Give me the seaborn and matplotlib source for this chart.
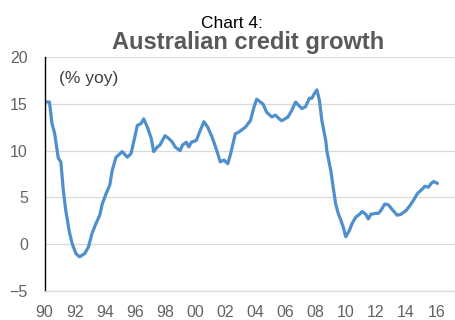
import matplotlib
matplotlib.use("Agg")
import matplotlib.pyplot as plt
import seaborn as sns
import pandas as pd

# Year-on-year growth in Australian credit, monthly observations
months = [
    "1990-01", "1990-05", "1990-07", "1990-09", "1990-12", "1991-02", "1991-04", "1991-06",
    "1991-09", "1991-11", "1992-02", "1992-05", "1992-09", "1992-12", "1993-03", "1993-06",
    "1993-09", "1993-11", "1994-02", "1994-05", "1994-07", "1994-10", "1995-03", "1995-07",
    "1995-10", "1996-01", "1996-03", "1996-06", "1996-08", "1996-11", "1997-02", "1997-04",
    "1997-07", "1997-09", "1998-01", "1998-04", "1998-07", "1998-09", "1999-01", "1999-03",
    "1999-06", "1999-08", "1999-10", "2000-02", "2000-04", "2000-08", "2000-11", "2001-02",
    "2001-04", "2001-07", "2001-09", "2001-12", "2002-03", "2002-05", "2002-09", "2002-12",
    "2003-05", "2003-09", "2003-12", "2004-02", "2004-05", "2004-07", "2004-10", "2005-02",
    "2005-05", "2005-08", "2005-10", "2006-03", "2006-06", "2006-09", "2006-11", "2007-02",
    "2007-05", "2007-08", "2007-10", "2007-12", "2008-02", "2008-04", "2008-06", "2008-09",
    "2008-10", "2009-01", "2009-03", "2009-05", "2009-07", "2009-09", "2009-11", "2010-01",
    "2010-04", "2010-06", "2010-09", "2010-12", "2011-02", "2011-05", "2011-07", "2011-09",
    "2012-01", "2012-03", "2012-05", "2012-08", "2012-11", "2013-02", "2013-06", "2013-09",
    "2014-01", "2014-04", "2014-07", "2014-10", "2015-02", "2015-04", "2015-07", "2015-09",
    "2015-11", "2016-02",
]
growth = [
    15.2, 15.2, 12.9, 11.9, 9.2, 8.8, 5.8, 3.6,
    1.2, 0.1, -1.0, -1.35, -1.0, -0.3, 1.2, 2.2,
    3.1, 4.3, 5.4, 6.3, 7.9, 9.3, 9.9, 9.3,
    9.7, 11.5, 12.7, 12.9, 13.4, 12.5, 11.3, 9.9,
    10.4, 10.6, 11.6, 11.3, 10.9, 10.4, 10.0, 10.6,
    10.9, 10.4, 10.9, 11.1, 11.8, 13.1, 12.5, 11.6,
    10.9, 9.7, 8.8, 9.0, 8.6, 9.5, 11.8, 12.0,
    12.5, 13.2, 14.7, 15.5, 15.2, 15.0, 14.1, 13.6,
    13.8, 13.4, 13.2, 13.6, 14.3, 15.2, 14.9, 14.5,
    14.7, 15.6, 15.6, 16.1, 16.5, 15.4, 13.2, 11.1,
    9.9, 7.9, 6.1, 4.3, 3.3, 2.6, 1.8, 0.8,
    1.5, 2.2, 2.9, 3.2, 3.5, 3.2, 2.7, 3.2,
    3.3, 3.3, 3.6, 4.3, 4.2, 3.7, 3.1, 3.2,
    3.6, 4.1, 4.7, 5.4, 5.9, 6.2, 6.1, 6.5,
    6.7, 6.5,
]
tick_years = list(range(1990, 2017, 2))
y_ticks = [-5, 0, 5, 10, 15, 20]

df = pd.DataFrame({"date": pd.to_datetime(months), "growth": growth})

sns.set_style("white")
plt.rcParams["font.family"] = ["Liberation Sans", "DejaVu Sans"]

fig = plt.figure(figsize=(4.56, 3.2), dpi=100)
ax = fig.add_axes([0.0976, 0.0906, 0.9024, 0.731])

sns.lineplot(data=df, x="date", y="growth", ax=ax, color="#4f8fcc", linewidth=2.3)

ax.set_ylim(-5, 20)
ax.set_yticks(y_ticks)
ax.set_xlim(pd.Timestamp("1990-01-01"), pd.Timestamp("2017-04-26"))
ax.set_xticks([pd.Timestamp(f"{y}-01-01") for y in tick_years])
ax.set_xticklabels([f"{y % 100:02d}" for y in tick_years])
ax.set_xlabel("")
ax.set_ylabel("")

ax.grid(axis="y", color="#d9d9d9", linewidth=0.9)
ax.grid(axis="x", visible=False)
ax.set_axisbelow(True)
for side in ("top", "right"):
    ax.spines[side].set_visible(False)
ax.spines["left"].set_color("black")
ax.spines["left"].set_linewidth(1.0)
ax.spines["bottom"].set_color("#d9d9d9")
ax.spines["bottom"].set_linewidth(0.9)

ax.tick_params(axis="both", length=0, labelsize=11.5, labelcolor="#636363")
ax.tick_params(axis="y", pad=12)
ax.tick_params(axis="x", pad=10)

fig.text(232 / 456, 1 - 27.5 / 320, "Chart 4:", ha="center", va="baseline",
         fontsize=12.5, color="black")
fig.text(248.5 / 456, 1 - 49.5 / 320, "Australian credit growth", ha="center",
         va="baseline", fontsize=17, fontweight="bold", color="#595959")
ax.text(0.035, 0.91, "(% yoy)", transform=ax.transAxes, ha="left", va="center",
        fontsize=12.5, color="#404040")

fig.savefig("out.png", dpi=100)
